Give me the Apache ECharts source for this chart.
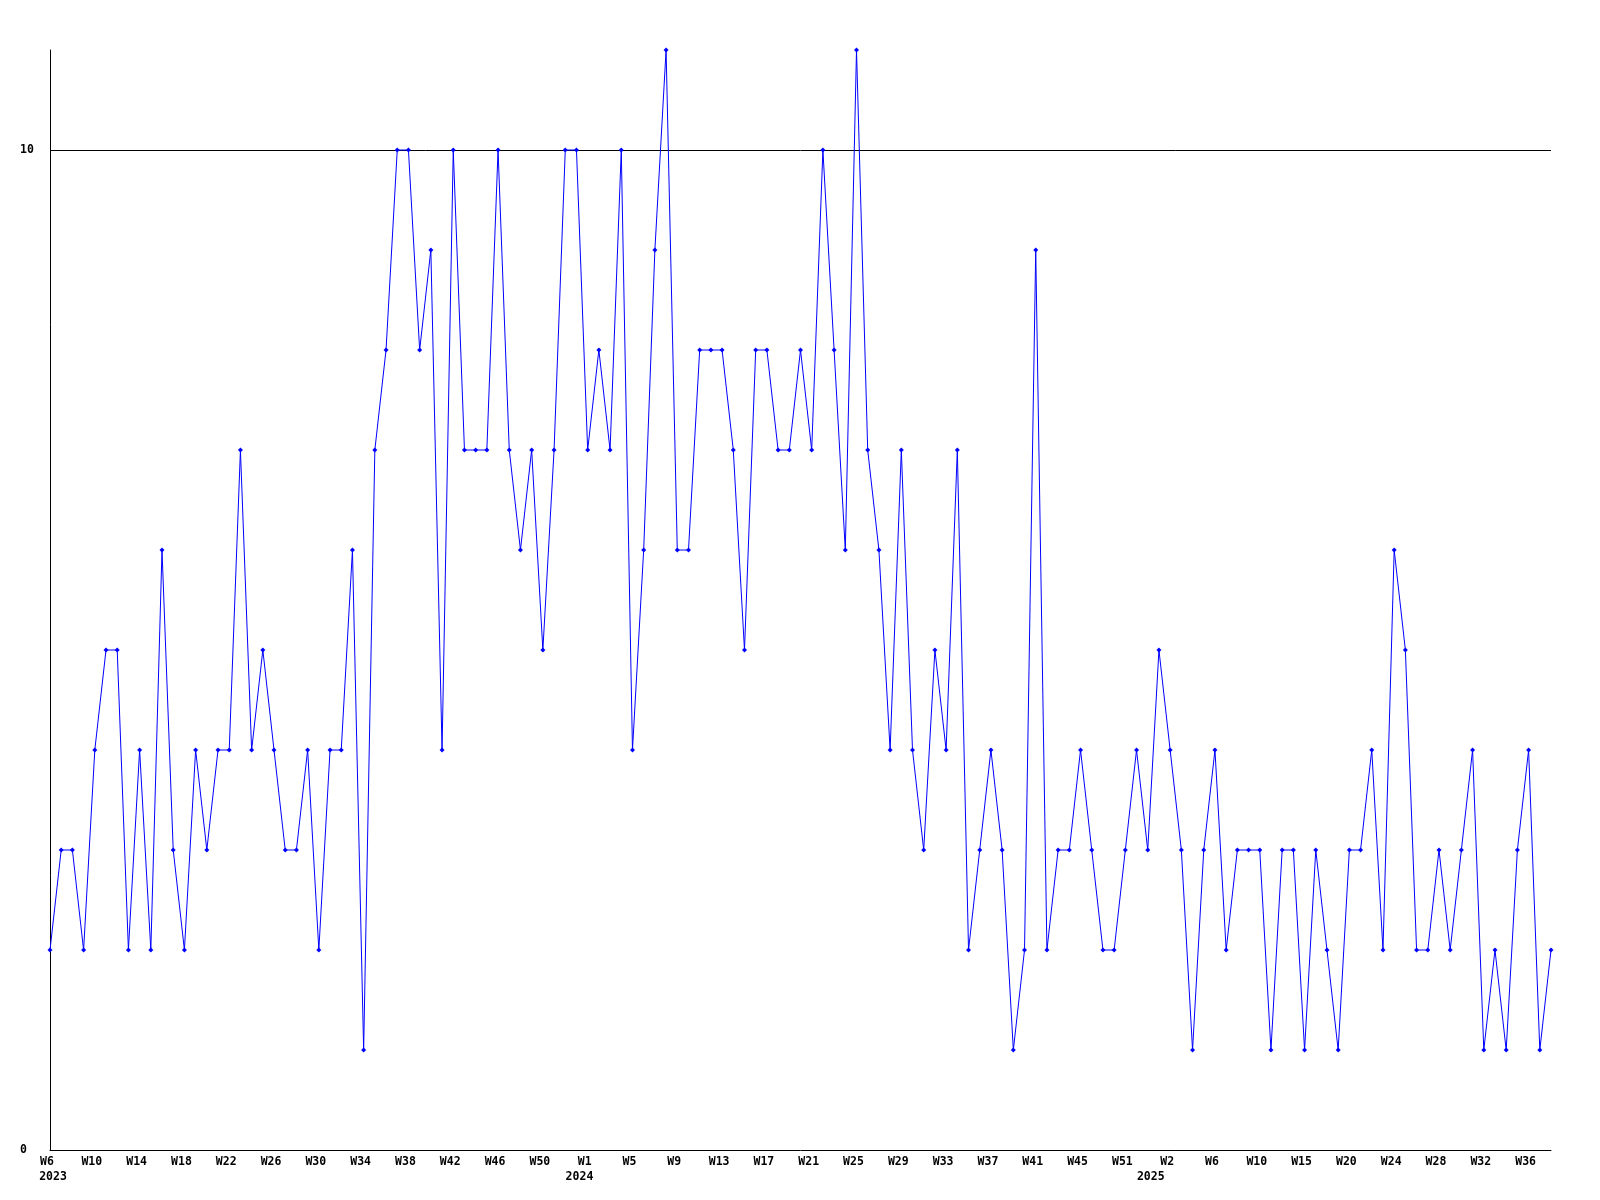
<!DOCTYPE html>
<html>
<head>
<meta charset="utf-8">
<script src="https://cdn.jsdelivr.net/npm/echarts@6/dist/echarts.min.js"></script>
<style>
html,body{margin:0;padding:0;background:#fff;}
#chart{width:1600px;height:1200px;}
</style>
</head>
<body>
<div id="chart"></div>
<script>
// Week numbers per year (categories, as shown on the x axis)
const weeks2023 = [6,7,8,9,10,11,12,13,14,15,16,17,18,19,20,21,22,23,24,25,26,27,28,29,30,31,32,33,34,35,36,37,38,39,40,41,42,43,44,45,46,47,48,49,50,51,52];
const weeks2024 = [0,1,2,3,4,5,6,7,8,9,10,11,12,13,14,15,16,17,18,19,20,21,22,23,24,25,26,27,28,29,30,31,32,33,34,35,36,37,38,39,40,41,42,43,44,45,46,47,49,51,52];
const weeks2025 = [0,1,2,3,4,5,6,7,8,9,10,11,12,14,15,16,17,19,20,21,22,23,24,25,26,27,28,29,30,31,32,33,34,35,36,37,38];

// Weekly values
const values = [
  2,3,3,2,4,5,5,2,4,2,
  6,3,2,4,3,4,4,7,4,5,
  4,3,3,4,2,4,4,6,1,7,
  8,10,10,8,9,4,10,7,7,7,
  10,7,6,7,5,7,10,10,7,8,
  7,10,4,6,9,11,6,6,8,8,
  8,7,5,8,8,7,7,8,7,10,
  8,6,11,7,6,4,7,4,3,5,
  4,7,2,3,4,3,1,2,9,2,
  3,3,4,3,2,2,3,4,3,5,
  4,3,1,3,4,2,3,3,3,1,
  3,3,1,3,2,1,3,3,4,2,
  6,5,2,2,3,2,3,4,1,2,
  1,3,4,1,2
];

// y-axis tick labels
const yMin = 0, yMax = 11, yInterval = 10;

const categories = [];
const yearOf = [];
[[2023, weeks2023], [2024, weeks2024], [2025, weeks2025]].forEach(([y, ws]) => {
  ws.forEach(w => { categories.push('W' + w); yearOf.push(y); });
});

const font = { fontFamily: 'DejaVu Sans Mono', fontWeight: 'bold', fontSize: 11.5, color: '#000' };

const chart = echarts.init(document.getElementById('chart'), null, { renderer: 'canvas' });
chart.setOption({
  animation: false,
  backgroundColor: '#fff',
  grid: { left: 50, right: 49, top: 50, bottom: 50, containLabel: false },
  xAxis: [
    {
      type: 'category',
      data: categories,
      boundaryGap: false,
      axisLine: { show: true, lineStyle: { color: '#000', width: 1 } },
      axisTick: { show: false },
      splitLine: { show: false },
      axisLabel: Object.assign({ interval: 3, margin: 6, padding: [0, 6, 0, 0] }, font)
    },
    {
      type: 'category',
      data: categories,
      boundaryGap: false,
      position: 'bottom',
      offset: 15,
      axisLine: { show: false },
      axisTick: { show: false },
      splitLine: { show: false },
      axisLabel: Object.assign({
        margin: 6,
        padding: [0, 0, 0, 6],
        interval: function (idx) { return idx === 0 || yearOf[idx] !== yearOf[idx - 1]; },
        formatter: function (v, idx) { return String(yearOf[idx]); }
      }, font)
    }
  ],
  yAxis: {
    type: 'value',
    min: yMin,
    max: yMax,
    interval: yInterval,
    axisLine: { show: true, lineStyle: { color: '#000', width: 1 } },
    axisTick: { show: false },
    splitLine: { show: true, showMinLine: false, showMaxLine: false, lineStyle: { color: '#000', width: 1 } },
    axisLabel: Object.assign({ align: 'left', margin: 30, showMaxLabel: false }, font)
  },
  series: [{
    type: 'line',
    xAxisIndex: 0,
    data: values,
    symbol: 'diamond',
    symbolSize: 5,
    showAllSymbol: true,
    lineStyle: { color: '#0000ff', width: 1 },
    itemStyle: { color: '#0000ff' }
  }]
});
</script>
</body>
</html>
